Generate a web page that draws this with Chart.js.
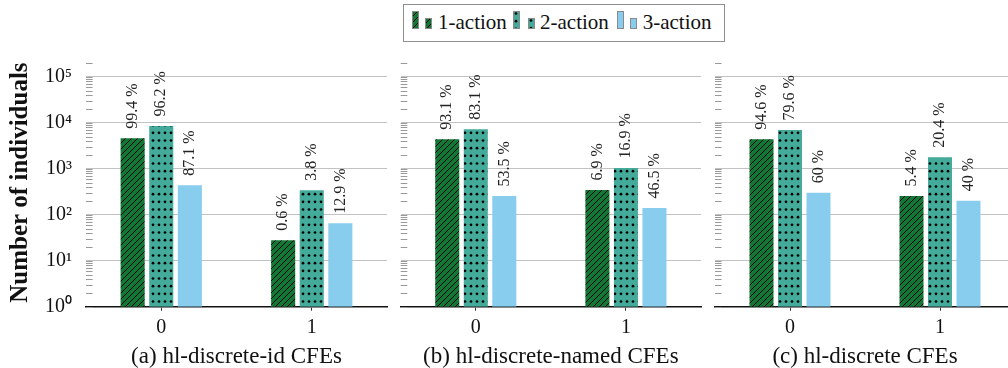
<!DOCTYPE html>
<html>
<head>
<meta charset="utf-8">
<script src="https://cdn.jsdelivr.net/npm/chart.js@4.4.1/dist/chart.umd.min.js"></script>
<style>
html, body { margin: 0; padding: 0; background: #fff; }
#wrap { position: relative; width: 1008px; height: 368px; overflow: hidden; }
canvas.c { position: absolute; top: 0; }
#legend { position: absolute; left: 403px; top: 4px; width: 322px; height: 38px; box-sizing: border-box;
  border: 1px solid #8e8e8e; background: #fff; z-index: 5; font-family: "Liberation Serif", "Times New Roman", serif; }
#legend canvas { position: absolute; }
#legend span { position: absolute; font-size: 21px; line-height: 21px; color: #111; white-space: nowrap; }
#preload { position: absolute; left: -2000px; top: 0; font-family: "Liberation Serif"; }
</style>
</head>
<body>
<div id="preload"><span style="font-size:16px">99.4 %</span><b style="font-size:25px">Number</b><span style="font-size:18px">10⁵</span></div>
<div id="wrap">
  <canvas id="c1" class="c" width="388" height="368" style="left:0px"></canvas>
  <canvas id="c2" class="c" width="312" height="368" style="left:390px"></canvas>
  <canvas id="c3" class="c" width="311" height="368" style="left:705px"></canvas>
  <div id="legend">
    <canvas id="s1a" width="7" height="18" style="left:7.7px;top:6px"></canvas>
    <canvas id="s1b" width="7" height="11" style="left:21px;top:13.3px"></canvas>
    <span style="left:34px;top:6.9px">1-action</span>
    <canvas id="s2a" width="7" height="18" style="left:109.3px;top:6px"></canvas>
    <canvas id="s2b" width="7" height="11" style="left:123.7px;top:13.3px"></canvas>
    <span style="left:136px;top:6.9px">2-action</span>
    <canvas id="s3a" width="7" height="18" style="left:212.7px;top:6px"></canvas>
    <canvas id="s3b" width="7" height="11" style="left:226px;top:13.3px"></canvas>
    <span style="left:238.7px;top:6.9px">3-action</span>
  </div>
</div>
<script>
// ---------- data ----------
const CATEGORIES = ['0', '1'];
const SERIES_NAMES = ['1-action', '2-action', '3-action'];

// (a) hl-discrete-id CFEs
const A_ONE = [4600, 28];
const A_TWO = [8550, 340];
const A_THREE = [440, 65];
const A_ONE_PCT = ['99.4 %', '0.6 %'];
const A_TWO_PCT = ['96.2 %', '3.8 %'];
const A_THREE_PCT = ['87.1 %', '12.9 %'];

// (b) hl-discrete-named CFEs
const B_ONE = [4390, 346];
const B_TWO = [7240, 1040];
const B_THREE = [256, 141];
const B_ONE_PCT = ['93.1 %', '6.9 %'];
const B_TWO_PCT = ['83.1 %', '16.9 %'];
const B_THREE_PCT = ['53.5 %', '46.5 %'];

// (c) hl-discrete CFEs
const C_ONE = [4390, 256];
const C_TWO = [7000, 1780];
const C_THREE = [302, 202];
const C_ONE_PCT = ['94.6 %', '5.4 %'];
const C_TWO_PCT = ['79.6 %', '20.4 %'];
const C_THREE_PCT = ['60 %', '40 %'];

const CAPTIONS = ['(a) hl-discrete-id CFEs', '(b) hl-discrete-named CFEs', '(c) hl-discrete CFEs'];
const Y_TITLE = 'Number of individuals';
const Y_DECADES = [1, 10, 100, 1000, 10000, 100000];
const Y_TICK_LABELS = ['10\u2070', '10\u00b9', '10\u00b2', '10\u00b3', '10\u2074', '10\u2075'];
const Y_MINOR_MULTIPLIERS = [2, 3, 4, 5, 6, 7, 8, 9];
const Y_MIN = 1;
const Y_MAX = 251189;

// ---------- styling ----------
const FAMILY = 'Liberation Serif';
const FONT = '"Liberation Serif", serif';
const COL_GREEN = '#117733';
const COL_TEAL = '#44AA99';
const COL_CYAN = '#88CCEE';

function hatchPattern() {
  const s = 6;
  const t = document.createElement('canvas');
  t.width = s; t.height = s;
  const g = t.getContext('2d');
  g.fillStyle = COL_GREEN; g.fillRect(0, 0, s, s);
  g.strokeStyle = '#000'; g.lineWidth = 1;
  g.beginPath();
  g.moveTo(0, s); g.lineTo(s, 0);
  g.moveTo(-1, 1); g.lineTo(1, -1);
  g.moveTo(s - 1, s + 1); g.lineTo(s + 1, s - 1);
  g.stroke();
  return g.createPattern(t, 'repeat');
}
function dotPattern() {
  const w = 12, h = 23;
  const t = document.createElement('canvas');
  t.width = w; t.height = h;
  const g = t.getContext('2d');
  g.fillStyle = COL_TEAL; g.fillRect(0, 0, w, h);
  g.fillStyle = '#000';
  [3, 9].forEach(x => [2.5, 10.2, 17.8].forEach(y => {
    g.beginPath(); g.arc(x, y, 1.35, 0, Math.PI * 2); g.fill();
  }));
  return g.createPattern(t, 'repeat');
}
const FILLS = [hatchPattern(), dotPattern(), COL_CYAN];

// legend swatches
[['s1a', 0], ['s1b', 0], ['s2a', 1], ['s2b', 1], ['s3a', 2], ['s3b', 2]].forEach(([id, k]) => {
  const cv = document.getElementById(id);
  const g = cv.getContext('2d');
  g.fillStyle = FILLS[k];
  g.fillRect(0, 0, cv.width, cv.height);
  g.strokeStyle = '#8a8a8a'; g.lineWidth = 1;
  g.strokeRect(0.5, 0.5, cv.width - 1, cv.height - 1);
});

function isDecade(v) {
  const l = Math.log10(v);
  return Math.abs(l - Math.round(l)) < 1e-9;
}
const Y_TICK_VALUES = (() => {
  const vals = [];
  Y_DECADES.forEach(d => {
    vals.push(d);
    Y_MINOR_MULTIPLIERS.forEach(m => { if (d * m <= Y_MAX) vals.push(d * m); });
  });
  return vals.sort((a, b) => a - b);
})();

const barLabels = {
  id: 'barLabels',
  afterDatasetsDraw(chart) {
    const ctx = chart.ctx;
    ctx.save();
    ctx.font = '16px ' + FONT;
    ctx.fillStyle = '#222';
    ctx.textAlign = 'left';
    ctx.textBaseline = 'middle';
    chart.data.datasets.forEach((ds, i) => {
      const meta = chart.getDatasetMeta(i);
      meta.data.forEach((bar, j) => {
        ctx.save();
        ctx.translate(bar.x, bar.y - 9.5);
        ctx.rotate(-Math.PI / 2);
        ctx.fillText(ds.pctLabels[j], 0, 0);
        ctx.restore();
      });
    });
    ctx.restore();
  }
};

const innerTicks = {
  id: 'innerTicks',
  afterDraw(chart) {
    const y = chart.scales.y;
    const left = chart.chartArea.left;
    const ctx = chart.ctx;
    ctx.save();
    ctx.strokeStyle = '#9a9a9a';
    ctx.lineWidth = 1;
    ctx.beginPath();
    y.ticks.forEach(t => {
      const p = Math.round(y.getPixelForValue(t.value)) + 0.5;
      ctx.moveTo(left, p);
      ctx.lineTo(left + 6.6, p);
    });
    ctx.stroke();
    ctx.restore();
  }
};

function makeChart(id, one, two, three, pcts, caption, yWidth, showY) {
  const values = [one, two, three];
  return new Chart(document.getElementById(id), {
    type: 'bar',
    data: {
      labels: CATEGORIES,
      datasets: SERIES_NAMES.map((name, k) => ({
        label: name,
        data: values[k],
        pctLabels: pcts[k],
        backgroundColor: FILLS[k],
        borderWidth: 0,
        categoryPercentage: 0.57,
        barPercentage: 0.842
      }))
    },
    options: {
      responsive: false,
      animation: false,
      events: [],
      layout: { padding: { top: 58.5, left: 0, right: 1, bottom: 0 } },
      plugins: { legend: { display: false }, tooltip: { enabled: false } },
      scales: {
        x: {
          type: 'category',
          offset: true,
          grid: { display: true, drawOnChartArea: false, drawTicks: true, tickLength: 4, tickColor: '#333', offset: false },
          border: { display: true, color: '#111', width: 1.6 },
          ticks: { font: { family: FONT, size: 20, lineHeight: 1 }, color: '#111', padding: 7, maxRotation: 0 },
          title: { display: true, text: caption, font: { family: FONT, size: 23, lineHeight: 1 }, color: '#111', padding: 0 },
          afterFit(s) { s.height = 61.3; }
        },
        y: {
          type: 'logarithmic',
          min: Y_MIN,
          max: Y_MAX,
          afterBuildTicks(s) { s.ticks = Y_TICK_VALUES.map(v => ({ value: v })); },
          grid: {
            drawTicks: false,
            lineWidth: 1,
            color: c => (c.tick && isDecade(c.tick.value)) ? '#c2c2c2' : 'rgba(0,0,0,0)'
          },
          border: { display: false },
          ticks: {
            display: showY,
            autoSkip: false,
            padding: 14,
            font: { family: FONT, size: 20 },
            color: '#111',
            callback: v => {
              const i = Y_DECADES.indexOf(v);
              return i >= 0 ? Y_TICK_LABELS[i] : '';
            }
          },
          title: {
            display: showY,
            text: Y_TITLE,
            font: { family: FONT, size: 25, weight: 'bold', lineHeight: 1 },
            color: '#111',
            padding: { top: 8, bottom: 0 }
          },
          afterFit(s) { s.width = yWidth; }
        }
      }
    },
    plugins: [barLabels, innerTicks]
  });
}

function drawAll() {
  makeChart('c1', A_ONE, A_TWO, A_THREE, [A_ONE_PCT, A_TWO_PCT, A_THREE_PCT], CAPTIONS[0], 86, true);
  makeChart('c2', B_ONE, B_TWO, B_THREE, [B_ONE_PCT, B_TWO_PCT, B_THREE_PCT], CAPTIONS[1], 10.7, false);
  makeChart('c3', C_ONE, C_TWO, C_THREE, [C_ONE_PCT, C_TWO_PCT, C_THREE_PCT], CAPTIONS[2], 10, false);
}

Promise.all([
  document.fonts.load('16px "' + FAMILY + '"'),
  document.fonts.load('bold 25px "' + FAMILY + '"'),
  document.fonts.load('20px "' + FAMILY + '"', '10\u2070\u00b9\u2075')
]).then(drawAll, drawAll);
</script>
</body>
</html>
